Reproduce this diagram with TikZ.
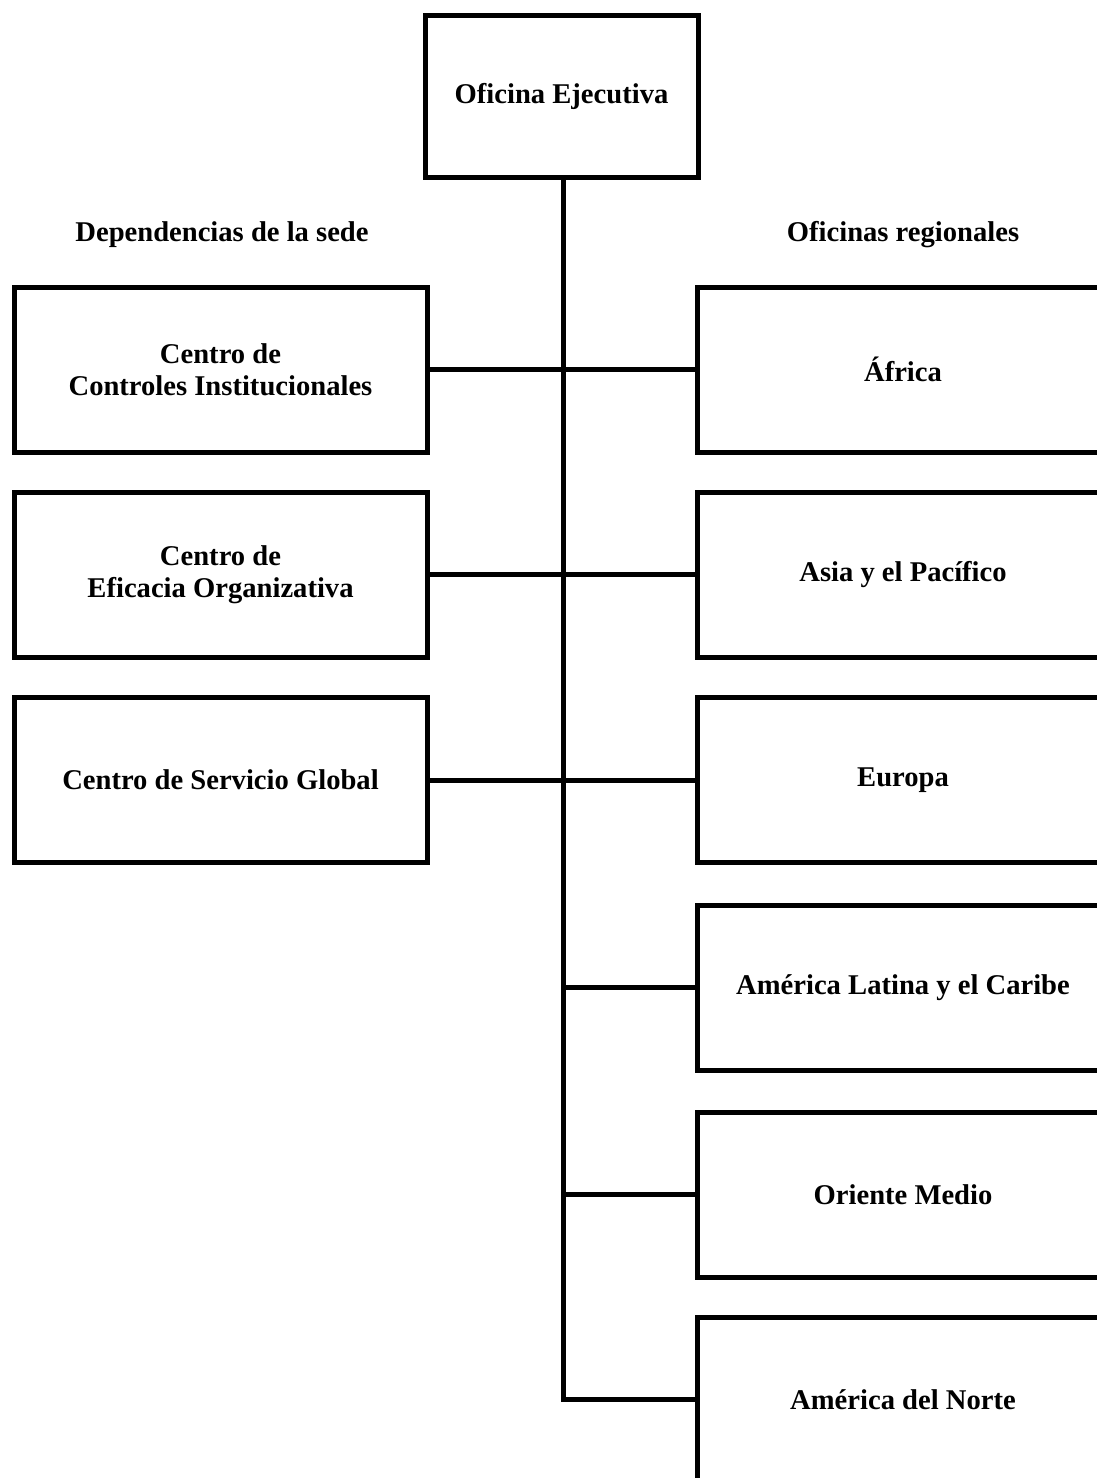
\documentclass[tikz,border=0pt]{standalone}
\usepackage{fontspec}
\setmainfont{Liberation Serif}
\usepackage{tikz}
\usetikzlibrary{positioning}

\begin{document}
\begin{tikzpicture}[
    x=0.5pt, y=-0.5pt,
    font=\fontsize{14.3}{16}\selectfont\bfseries,
    link/.style={line width=2.5pt, line cap=rect},
    orgbox/.style={
        rectangle,
        draw=black,
        line width=2.5pt,
        minimum height=82.5pt,
        align=center
    },
    headbox/.style={orgbox, minimum width=136.5pt, minimum height=81pt},
    leftbox/.style={orgbox, minimum width=206.5pt},
    rightbox/.style={orgbox, minimum width=206pt}
]

%% Canvas %%
\useasboundingbox (0,0) rectangle (1097,1478);
\clip (0,0) rectangle (1097,1478);

%% Top %%
\node (exec) [headbox] at (561.5,96) {Oficina Ejecutiva};

%% Headings %%
\node (hq_title) at (222,235) {Dependencias de la sede};
\node (reg_title) at (903,235) {Oficinas regionales};

%% LEFT SIDE - headquarters units %%
\node (controles) [leftbox] at (220.5,369.5) {Centro de\\Controles Institucionales};
\node (eficacia) [leftbox] at (220.5,574.5) {Centro de\\Eficacia Organizativa};
\node (servicio) [leftbox] at (220.5,780) {Centro de Servicio Global};

%% RIGHT SIDE - regional offices %%
\node (africa) [rightbox] at (903,369.5) {África};
\node (asia) [rightbox] at (903,574.5) {Asia y el Pacífico};
\node (europa) [rightbox] at (903,780) {Europa};
\node (latam) [rightbox] at (903,987.5) {América Latina y el Caribe};
\node (oriente) [rightbox] at (903,1194.5) {Oriente Medio};
\node (norte) [rightbox] at (903,1399.5) {América del Norte};

%% Trunk points %%
\coordinate (t_latam) at (563,987.5);
\coordinate (t_oriente) at (563,1194.5);
\coordinate (t_norte) at (563,1399.5);

%% CONNECTORS %%
\draw [link] (exec.south -| t_norte) -- (t_norte) -- (norte.west);
\draw [link] (controles.east) -- (africa.west);
\draw [link] (eficacia.east) -- (asia.west);
\draw [link] (servicio.east) -- (europa.west);
\draw [link] (t_latam) -- (latam.west);
\draw [link] (t_oriente) -- (oriente.west);

\end{tikzpicture}
\end{document}
